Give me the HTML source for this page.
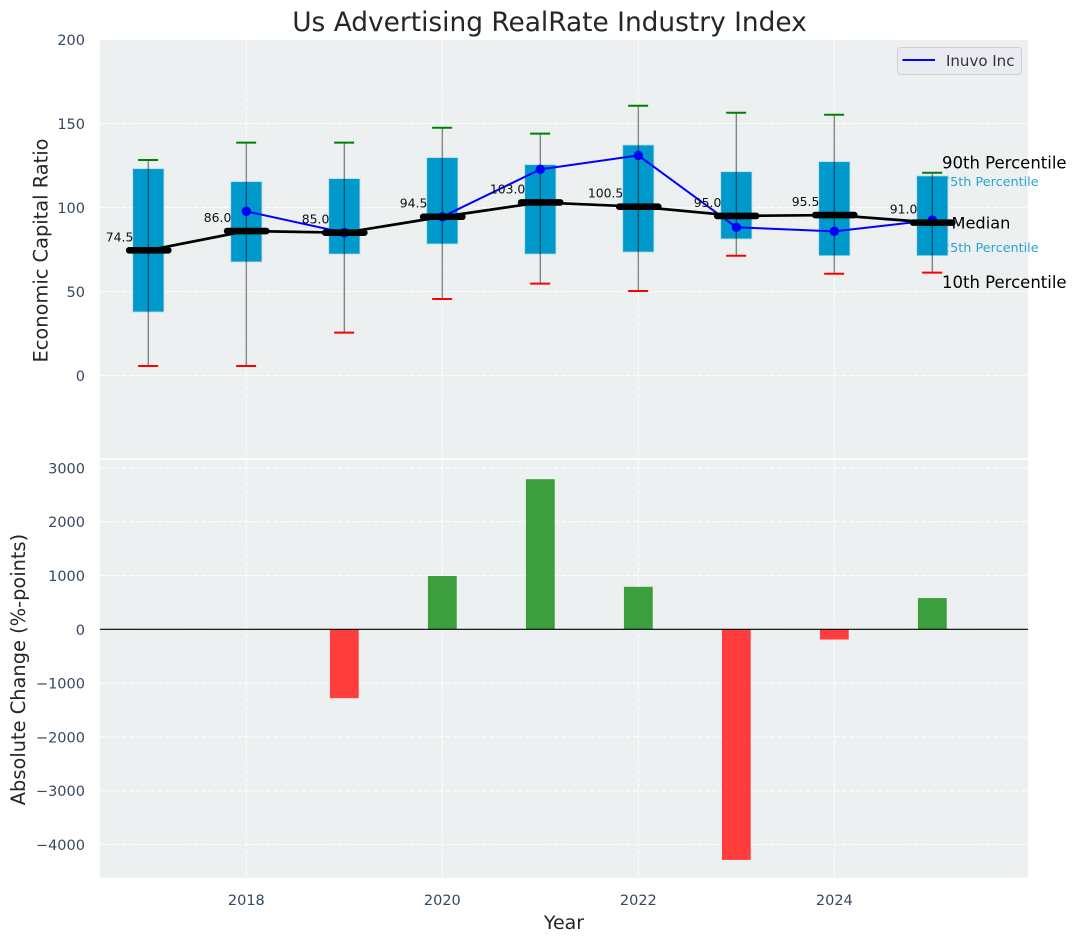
<!DOCTYPE html>
<html>
<head>
<meta charset="utf-8">
<title>Us Advertising RealRate Industry Index</title>
<style>
html,body{margin:0;padding:0;background:#fff;width:1077px;height:942px;overflow:hidden}
svg{display:block;font-family:"DejaVu Sans","Liberation Sans",sans-serif}
</style>
</head>
<body>
<svg id="chart" xmlns="http://www.w3.org/2000/svg" width="1077" height="942" viewBox="0 0 1077 942">
  <rect x="100" y="40" width="928" height="418.3" fill="#ecf0f1"/>
  <rect x="100" y="460" width="928" height="417.8" fill="#ecf0f1"/>
  <g id="grid"></g>
  <g id="ticks"></g>
  <text x="549.5" y="31" font-size="26.4" text-anchor="middle" fill="#262626">Us Advertising RealRate Industry Index</text>
  <text transform="translate(47.5,250.5) rotate(-90)" font-size="19.4" text-anchor="middle" fill="#262626">Economic Capital Ratio</text>
  <text transform="translate(25,669.5) rotate(-90)" font-size="19.4" text-anchor="middle" fill="#262626">Absolute Change (%-points)</text>
  <text x="564" y="929" font-size="19" text-anchor="middle" fill="#262626">Year</text>
  <g id="guide-labels">
    <text x="942" y="186" font-size="12.8" fill="#2aa3d0">75th Percentile</text>
    <text x="942" y="252" font-size="12.8" fill="#2aa3d0">25th Percentile</text>
  </g>
  <g id="boxes"></g>
  <g id="bars"></g>
  <g id="lines"></g>
  <g id="guide-labels-2">
    <text x="942" y="168.5" font-size="16.5" fill="#000">90th Percentile</text>
    <text x="951.5" y="228.5" font-size="16.2" fill="#000">Median</text>
    <text x="942" y="288" font-size="16.5" fill="#000">10th Percentile</text>
  </g>
  <g>
    <rect x="897.5" y="47.5" width="124" height="27" rx="3" fill="#eaeaf2" stroke="#d0d0d4" stroke-width="1"/>
    <line x1="902.5" y1="60" x2="935" y2="60" stroke="#0000ff" stroke-width="2"/>
    <text x="946" y="66" font-size="15" fill="#333">Inuvo Inc</text>
  </g>
</svg>
<script>
var years = [2017, 2018, 2019, 2020, 2021, 2022, 2023, 2024, 2025];
var p90 = [128.3, 138.6, 138.6, 147.5, 144, 160.6, 156.4, 155.2, 120.7];
var p75 = [123.1, 115.4, 117.2, 129.7, 125.5, 137.2, 121.3, 127.3, 118.8];
var medians = [74.5, 86, 85, 94.5, 103, 100.5, 95, 95.5, 91];
var p25 = [37.8, 67.6, 72.3, 78.3, 72.3, 73.5, 81.3, 71.3, 71.3];
var p10 = [5.65, 5.65, 25.5, 45.5, 54.7, 50.3, 71.3, 60.6, 61.2];
var companyYears = [2018, 2019, 2020, 2021, 2022, 2023, 2024, 2025];
var companyValues = [97.7, 85, 94.5, 122.7, 131, 88.2, 85.8, 92.5];
var changeYears = [2019, 2020, 2021, 2022, 2023, 2024, 2025];
var changeValues = [-1280, 990, 2790, 790, -4286, -190, 580];
var xTickLabels = [2018, 2020, 2022, 2024];
var topTickLabels = [0, 50, 100, 150, 200];
var bottomTickLabels = [-4000, -3000, -2000, -1000, 0, 1000, 2000, 3000];

function xScale(v) { return 148.33 + (v - 2017) * 98; }
function yTop(v) { return 375.5 - v * 1.68; }
function yBottom(v) { return 629.3 - v * 0.0538; }

var NS = 'http://www.w3.org/2000/svg';
function make(parent, tag, attrs, text) {
  var el = document.createElementNS(NS, tag);
  for (var k in attrs) el.setAttribute(k, attrs[k]);
  if (text !== undefined) el.textContent = text;
  parent.appendChild(el);
  return el;
}
var grid = document.getElementById('grid');
var ticks = document.getElementById('ticks');
var boxes = document.getElementById('boxes');
var bars = document.getElementById('bars');
var lines = document.getElementById('lines');
var gridStyle = {stroke: '#ffffff', 'stroke-width': 1.1, 'stroke-dasharray': '5 2.2', opacity: 0.9};

xTickLabels.forEach(function (t) {
  var x = xScale(t);
  [[40, 458.3], [460, 877.8]].forEach(function (r) {
    var l = make(grid, 'line', Object.assign({x1: x, x2: x, y1: r[0], y2: r[1]}, gridStyle));
    
    
  });
  var lab = make(ticks, 'text', {x: x, y: 905, 'font-size': 14.5, 'text-anchor': 'middle', fill: '#34495e'}, String(t));
  
  
});
topTickLabels.forEach(function (t) {
  var y = yTop(t);
  var l = make(grid, 'line', Object.assign({x1: 100, x2: 1028, y1: y, y2: y}, gridStyle));
  
  
  var lab = make(ticks, 'text', {x: 85, y: y + 5.5, 'font-size': 14.5, 'text-anchor': 'end', fill: '#34495e'}, String(t));
  
  
});
bottomTickLabels.forEach(function (t) {
  var y = yBottom(t);
  var l = make(grid, 'line', Object.assign({x1: 100, x2: 1028, y1: y, y2: y}, gridStyle));
  
  
  var txt = t < 0 ? '\u2212' + Math.abs(t) : String(t);
  var lab = make(ticks, 'text', {x: 85, y: y + 5.5, 'font-size': 14.5, 'text-anchor': 'end', fill: '#34495e'}, txt);
  
  
});

years.forEach(function (yr, i) {
  var x = xScale(yr);
  var box = make(boxes, 'rect', {x: x - 15.6, y: yTop(p75[i]), width: 31.2, height: yTop(p25[i]) - yTop(p75[i]), fill: '#0099cc', stroke: '#b5dcea', 'stroke-width': 0.8});
  
  
  var w = make(boxes, 'line', {x1: x, x2: x, y1: yTop(p90[i]), y2: yTop(p10[i]), stroke: '#000', 'stroke-opacity': 0.45, 'stroke-width': 1.4});
  
  
  var c1 = make(boxes, 'line', {x1: x - 10.2, x2: x + 9.8, y1: yTop(p90[i]), y2: yTop(p90[i]), stroke: '#008000', 'stroke-width': 2});
  
  
  var c2 = make(boxes, 'line', {x1: x - 10.2, x2: x + 9.8, y1: yTop(p10[i]), y2: yTop(p10[i]), stroke: '#ff0000', 'stroke-width': 2});
  
  
});

changeYears.forEach(function (yr, i) {
  var v = changeValues[i];
  var y0 = yBottom(Math.max(v, 0));
  var y1 = yBottom(Math.min(v, 0));
  var bar = make(bars, 'rect', {x: xScale(yr) - 14.4, y: y0, width: 28.8, height: y1 - y0, fill: v >= 0 ? '#3c9e3d' : '#ff3d3d'});
  
  
});
var zero = make(bars, 'line', {x1: 100, x2: 1028, y1: yBottom(0), y2: yBottom(0), stroke: '#000', 'stroke-width': 1.2});



var companyPath = make(lines, 'polyline', {
  points: companyYears.map(function (yr, i) { return xScale(yr) + ',' + yTop(companyValues[i]); }).join(' '),
  fill: 'none', stroke: '#0000ff', 'stroke-width': 2
});


companyYears.forEach(function (yr, i) {
  var p = make(lines, 'circle', {cx: xScale(yr), cy: yTop(companyValues[i]), r: 4.7, fill: '#0000ff'});
  
  
});

var medianPath = make(lines, 'polyline', {
  points: years.map(function (yr, i) { return xScale(yr) + ',' + yTop(medians[i]); }).join(' '),
  fill: 'none', stroke: '#000', 'stroke-width': 2.7
});


years.forEach(function (yr, i) {
  var x = xScale(yr), y = yTop(medians[i]);
  var m = make(lines, 'line', {x1: x - 19.2, x2: x + 20, y1: y, y2: y, stroke: '#000', 'stroke-width': 6.6, 'stroke-linecap': 'round'});
  
  
  var lab = make(lines, 'text', {x: x - 15, y: y - 9, 'font-size': 12.4, 'text-anchor': 'end', fill: '#111'}, medians[i].toFixed(1));
  
  
});
</script>
</body>
</html>
